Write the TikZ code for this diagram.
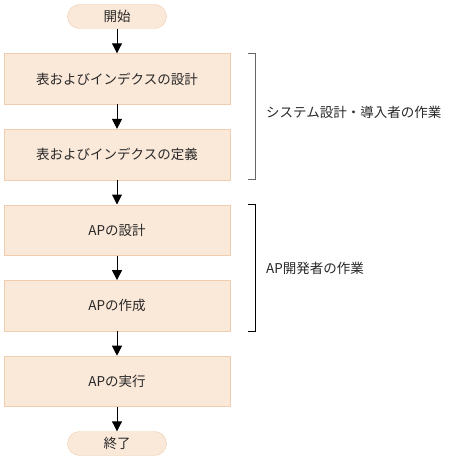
\documentclass[tikz,border=0pt]{standalone}
\usepackage{fontspec}
\newfontfamily\jpfont{Noto Sans CJK JP}
\usetikzlibrary{positioning, arrows.meta}

\definecolor{boxfill}{RGB}{250,232,216}
\definecolor{boxline}{RGB}{240,205,175}
\definecolor{txtgray}{RGB}{40,40,40}

\tikzset{
  proc/.style={draw=boxline, fill=boxfill, minimum width=226pt, minimum height=50.6pt, inner sep=0pt, text=txtgray, font=\jpfont\fontsize{13.5}{14}\selectfont},
  term/.style={proc, rounded corners=12pt, minimum width=99pt, minimum height=24pt},
  flow/.style={-{Triangle[length=10pt,width=10pt]}, line width=1pt, black},
  brk/.style={line width=1pt, gray!80!black},
  note/.style={anchor=west, inner sep=0pt, text=txtgray, font=\jpfont\fontsize{13.5}{14}\selectfont}
}

\begin{document}
\begin{tikzpicture}[x=1pt, y=-1pt]
\useasboundingbox (0,0) rectangle (453,460);
\node[term] (start) at (117,16.5) {開始};
\node[proc, below=24.6pt of start] (tabdesign) {表およびインデクスの設計};
\node[proc, below=24.6pt of tabdesign] (tabdef) {表およびインデクスの定義};
\node[proc, below=24.6pt of tabdef] (apdesign) {APの設計};
\node[proc, below=24.6pt of apdesign] (apmake) {APの作成};
\node[proc, below=24.6pt of apmake] (aprun) {APの実行};
\node[term, below=24.6pt of aprun] (stop) {終了};

\draw[flow] (start) -- (tabdesign);
\draw[flow] (tabdesign) -- (tabdef);
\draw[flow] (tabdef) -- (apdesign);
\draw[flow] (apdesign) -- (apmake);
\draw[flow] (apmake) -- (aprun);
\draw[flow] (aprun) -- (stop);

% brackets
\draw[brk] ([xshift=18pt]tabdesign.north east) -| ([xshift=25pt]tabdef.south east) -- ([xshift=18pt]tabdef.south east);
\draw[brk, black] ([xshift=18pt]apdesign.north east) -| ([xshift=25pt]apmake.south east) -- ([xshift=18pt]apmake.south east);
\node[note] (sysnote) at (266,112) {システム設計・導入者の作業};
\node[note] (apnote) at (266,268) {AP開発者の作業};
\end{tikzpicture}
\end{document}
